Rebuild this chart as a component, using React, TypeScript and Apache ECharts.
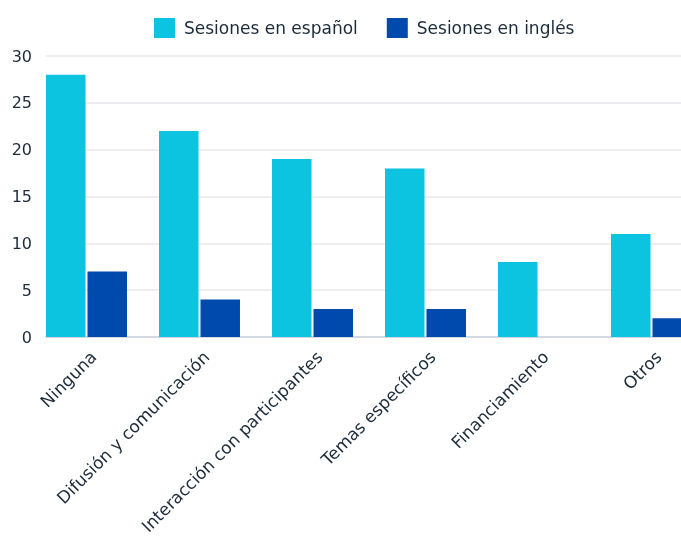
import React, { useEffect, useRef } from "react";
import * as echarts from "echarts";

const categories = [
  "Ninguna",
  "Difusión y comunicación",
  "Interacción con participantes",
  "Temas específicos",
  "Financiamiento",
  "Otros",
];
const spanishSessions = [28, 22, 19, 18, 8, 11];
const englishSessions = [7, 4, 3, 3, 0, 2];
const seriesNames = ["Sesiones en español", "Sesiones en inglés"];
const yTicks = { min: 0, max: 30, interval: 5 };

const FONT = "'DejaVu Sans', sans-serif";
const TEXT = "#1c2b3a";
const CHART_W = 720;

export default function App() {
  const ref = useRef<HTMLDivElement>(null);
  useEffect(() => {
    document.body.style.margin = "0";
    document.body.style.overflow = "hidden";
    const chart = echarts.init(ref.current!, undefined, { renderer: "svg" });
    const top = 56;
    const bottom = 208;
    chart.setOption({
      animation: false,
      textStyle: { fontFamily: FONT, color: TEXT },
      legend: {
        data: seriesNames,
        left: 154,
        top: 18,
        padding: 0,
        itemWidth: 21,
        itemHeight: 20,
        itemGap: 29,
        icon: "rect",
        textStyle: { fontSize: 17, color: TEXT, fontFamily: FONT, padding: [0, 0, 0, 4] },
      },
      grid: [
        { left: 30, top, bottom, right: CHART_W - 30 - 678, containLabel: false },
        { left: 46, top, bottom, right: CHART_W - 681, containLabel: false },
        { left: 37, top, bottom, right: CHART_W - 37 - 678, containLabel: false },
      ],
      xAxis: [
        {
          type: "category",
          gridIndex: 0,
          data: categories,
          axisLine: { show: false },
          axisTick: { show: false },
          axisLabel: { show: false },
        },
        {
          type: "value",
          gridIndex: 1,
          min: 0,
          max: 1,
          axisLine: { show: true, lineStyle: { color: "#cbd2db", width: 1.5 } },
          axisTick: { show: false },
          axisLabel: { show: false },
          splitLine: { show: false },
        },
        {
          type: "category",
          gridIndex: 2,
          data: categories,
          axisLine: { show: false },
          axisTick: { show: false },
          axisLabel: {
            rotate: 45,
            fontSize: 17,
            color: TEXT,
            fontFamily: FONT,
            margin: 17,
            interval: 0,
          },
        },
      ],
      yAxis: [
        { type: "value", gridIndex: 0, ...yTicks, show: false, splitLine: { show: false } },
        {
          type: "value",
          gridIndex: 1,
          ...yTicks,
          axisLine: { show: false },
          axisTick: { show: false },
          axisLabel: { fontSize: 16, color: TEXT, fontFamily: FONT, margin: 14 },
          splitLine: { lineStyle: { color: "#e6e9ee", width: 1.5 } },
        },
        { type: "value", gridIndex: 2, ...yTicks, show: false, splitLine: { show: false } },
      ],
      series: [
        {
          name: seriesNames[0],
          type: "bar",
          xAxisIndex: 0,
          yAxisIndex: 0,
          data: spanishSessions,
          barWidth: 39.5,
          barGap: "5%",
          itemStyle: { color: "#0cc3e0" },
        },
        {
          name: seriesNames[1],
          type: "bar",
          xAxisIndex: 0,
          yAxisIndex: 0,
          data: englishSessions,
          barWidth: 39.5,
          barGap: "5%",
          itemStyle: { color: "#004aad" },
        },
      ],
    });
    return () => chart.dispose();
  }, []);
  return (
    <div
      ref={ref}
      style={{ position: "fixed", left: 0, top: 0, width: CHART_W, height: 545 }}
    />
  );
}
